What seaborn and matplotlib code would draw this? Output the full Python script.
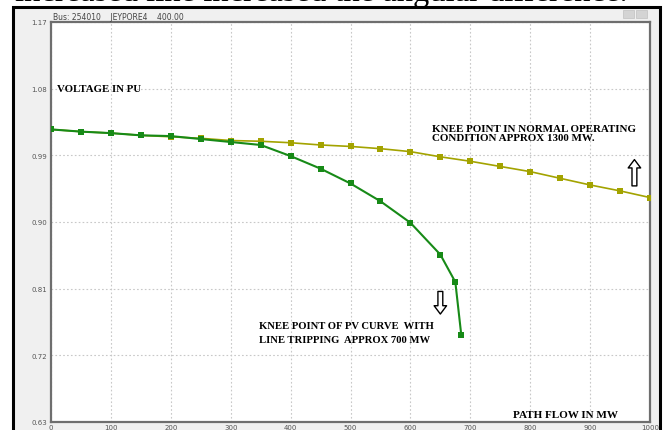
import pandas as pd
import seaborn as sns
import matplotlib.pyplot as plt
from matplotlib.patches import Rectangle

# PV curve data (path flow in MW, voltage in pu)
normal_mw = [0, 50, 100, 150, 200, 250, 300, 350, 400, 450, 500,
             550, 600, 650, 700, 750, 800, 850, 900, 950, 1000]
normal_pu = [1.025, 1.022, 1.020, 1.017, 1.015, 1.013, 1.010, 1.009, 1.007, 1.004, 1.002,
             0.999, 0.995, 0.988, 0.982, 0.975, 0.968, 0.959, 0.950, 0.942, 0.933]

trip_mw = [0, 50, 100, 150, 200, 250, 300, 350, 400, 450, 500, 550, 600, 650, 675, 685]
trip_pu = [1.025, 1.022, 1.020, 1.017, 1.016, 1.012, 1.008, 1.004, 0.989, 0.972, 0.952,
           0.928, 0.899, 0.856, 0.819, 0.747]

x_ticks = [0, 100, 200, 300, 400, 500, 600, 700, 800, 900, 1000]
y_ticks = [0.63, 0.72, 0.81, 0.90, 0.99, 1.08, 1.17]
y_labels = ['0.63', '0.72', '0.81', '0.90', '0.99', '1.08', '1.17']

YELLOW = '#a3a300'
GREEN = '#178a17'

df = pd.concat([
    pd.DataFrame({'mw': normal_mw, 'pu': normal_pu, 'case': 'normal'}),
    pd.DataFrame({'mw': trip_mw, 'pu': trip_pu, 'case': 'trip'}),
])

sns.set_style('white')
serif = ['Liberation Serif', 'DejaVu Serif']

fig = plt.figure(figsize=(6.65, 4.31), dpi=100)
fig.patch.set_facecolor('white')

# window frame round the plot (behind the axes)
fig.patches.append(Rectangle((13 / 665, -0.01), 647 / 665, 1 - 8 / 431 + 0.01,
                             transform=fig.transFigure, facecolor='#f0f0f0',
                             edgecolor='black', linewidth=2.2, zorder=-5))
for bx in (623, 636):
    fig.patches.append(Rectangle((bx / 665, 1 - 19 / 431), 11 / 665, 8 / 431,
                                 transform=fig.transFigure, facecolor='#d4d4d4',
                                 edgecolor='#c0c0c0', linewidth=0.5, zorder=-4))

# bit of document text cut off at the top
fig.text(15 / 665, 1 - 0.8 / 431, 'increased line increased the angular difference.',
         family=serif, fontsize=23.5, va='baseline', ha='left', color='black')

ax = fig.add_axes([51 / 665, 1 - 423 / 431, 599 / 665, 400 / 431])
ax.set_facecolor('white')

sns.lineplot(data=df[df['case'] == 'normal'], x='mw', y='pu', ax=ax, color=YELLOW,
             marker='s', markersize=4, markeredgewidth=0, linewidth=1.2, zorder=3)
sns.lineplot(data=df[df['case'] == 'trip'], x='mw', y='pu', ax=ax, color=GREEN,
             marker='s', markersize=4.5, markeredgewidth=0, linewidth=1.5, zorder=4)

ax.set_xlim(0, 1000)
ax.set_ylim(0.63, 1.17)
ax.set_xticks(x_ticks)
ax.set_yticks(y_ticks)
ax.set_xticklabels([str(t) for t in x_ticks])
ax.set_yticklabels(y_labels)
ax.tick_params(axis='both', length=0, labelsize=5, labelcolor='#555555')
ax.tick_params(axis='x', pad=1.5)
ax.tick_params(axis='y', pad=3)
ax.set_xlabel('')
ax.set_ylabel('')
ax.grid(True, color='#c8c8c8', linestyle=(0, (1.5, 2)), linewidth=0.8)
for s in ax.spines.values():
    s.set_color('#6e6e6e')
    s.set_linewidth(1.6)

ax.text(4, 1.172, 'Bus: 254010    JEYPORE4    400.00', fontsize=5.5, color='#444444',
        ha='left', va='bottom')

label_style = dict(family=serif, fontweight='bold', color='black')
ax.text(10, 1.08, 'VOLTAGE IN PU', fontsize=7.8, va='center', ha='left', **label_style)
ax.text(636, 1.008, 'KNEE POINT IN NORMAL OPERATING\nCONDITION APPROX 1300 MW.',
        fontsize=7.9, va='bottom', ha='left', linespacing=1.0, **label_style)
ax.text(347, 0.766, 'KNEE POINT OF PV CURVE  WITH\nLINE TRIPPING  APPROX 700 MW',
        fontsize=7.7, va='top', ha='left', linespacing=1.65, **label_style)
ax.text(771, 0.640, 'PATH FLOW IN MW', fontsize=8, va='center', ha='left', **label_style)

# hollow arrows
hollow = dict(arrowstyle='simple,head_length=0.6,head_width=0.9,tail_width=0.35',
              facecolor='white', edgecolor='black', linewidth=1.0)
ax.annotate('', xy=(974, 0.988), xytext=(974, 0.945), arrowprops=hollow)
ax.annotate('', xy=(650, 0.772), xytext=(650, 0.810), arrowprops=hollow)

fig.savefig('out.png', dpi=100)
